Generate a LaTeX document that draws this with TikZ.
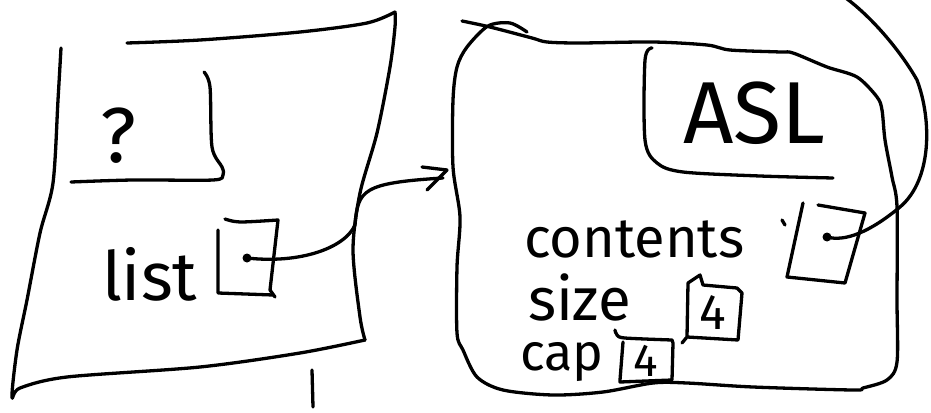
\documentclass[tikz,border=0pt]{standalone}
\usepackage{fontspec}
\setmainfont{Fira Sans}
\tikzset{
  hand/.style={line width=3.3pt, line cap=round, line join=round},
  lbl/.style={inner sep=0pt, outer sep=0pt, font=\fontsize{#1}{#1}\selectfont},
  ptrdot/.style={circle, fill=black, inner sep=0pt, minimum size=9pt}
}
\begin{document}
\begin{tikzpicture}[x=1pt,y=-1pt]
\useasboundingbox (0,0) rectangle (931,412);
\clip (0,0) rectangle (931,412);
% ---------- left frame ----------
\draw[hand] plot[smooth, tension=0.5] coordinates {(127,43) (200,40) (300,32) (367,23) (395,12)};
\draw[hand] plot[smooth, tension=0.5] coordinates {(395,12) (395,27) (390,67) (377,133) (360,193) (353,250) (360,317) (365,340)};
\draw[hand] plot[smooth, tension=0.5] coordinates {(365,340) (300,353) (200,367) (67,377) (20,388) (12,397) (17,350) (27,300) (40,233) (53,183) (58,100) (61,48)};
% inner '?' box
\draw[hand] plot[smooth, tension=0.5] coordinates {(204,72) (210,87) (212,147) (222,167) (223,175) (213,180) (133,180) (71,182)};
\node[lbl=78pt] (q) at (118,136) {?};
% list pointer box
\node[lbl=68pt, anchor=base west] (list) at (102,300) {list};
\draw[hand] (218,230) -- (218,293) -- (273,295);
\draw[hand] plot[smooth, tension=0.5] coordinates {(225,219) (240,222) (278,220)} -- (270,290) -- (275,297);
\node[ptrdot] (p1) at (247,258) {};
% arrow to the right frame
\coordinate (tip1) at (443,178);
\coordinate (apex) at (447,170);
\draw[hand] (p1.center) .. controls (300,264) and (345,248) .. (355,225) .. controls (358,190) and (362,183) .. (tip1);
\draw[hand] (apex) -- ++(-25,-3);
\draw[hand] (apex) -- ++(-20,20);
% tick below left frame
\draw[hand] (312,370) -- (313,407);
% ---------- right frame ----------
\draw[hand] plot[smooth, tension=0.5] coordinates {(462,21) (490,27) (532,38) (547,42) (580,43) (653,42) (707,45) (730,50) (780,52) (793,53) (827,67) (857,77) (877,97) (882,110) (885,140) (892,177) (897,207) (897,300) (897,362) (887,380) (863,388) (853,390) (753,387) (687,383) (653,383) (603,392) (553,395) (503,390) (477,377) (463,350) (457,333) (457,267) (460,217) (453,167) (453,100) (457,67) (467,47) (488,26) (510,23) (527,32)};
% ASL box
\draw[hand] plot[smooth, tension=0.5] coordinates {(652,48) (645,60) (645,140) (657,163) (683,172) (760,176) (833,178)};
\node[lbl=88pt, anchor=base west] (asl) at (683,143) {ASL};
% contents
\node[lbl=56pt, anchor=base west] (contents) at (524,257) {contents};
\draw[hand] (782,220) -- (785,225);
\draw[hand] (818,205) -- (865,213) -- (845,283) -- (787,277) -- (803,203);
\node[ptrdot] (p2) at (827,237) {};
\coordinate (loopend) at (843,-4);
\draw[hand] (p2.center) .. controls (845,242) and (870,232) .. (900,207) .. controls (932,180) and (932,120) .. (917,80) .. controls (900,50) and (870,15) .. (loopend);
% size
\node[lbl=60pt, anchor=base west] (size) at (528,320) {size};
\draw[hand] (682,343) -- (687,337) -- (688,283) -- (700,275) -- (703,285) -- (737,288) -- (742,293) -- (738,340) -- (687,337);
\node[lbl=50pt] (four1) at (713,313) {4};
% cap
\node[lbl=52pt, anchor=base west] (cap) at (520,370) {cap};
\draw[hand] plot[smooth, tension=0.5] coordinates {(615,330) (617,335) (625,338) (672,340)} -- (673,343) -- (672,380) -- (620,382) -- (620,380) -- (623,342);
\node[lbl=46pt] (four2) at (646,361) {4};
\end{tikzpicture}
\end{document}
